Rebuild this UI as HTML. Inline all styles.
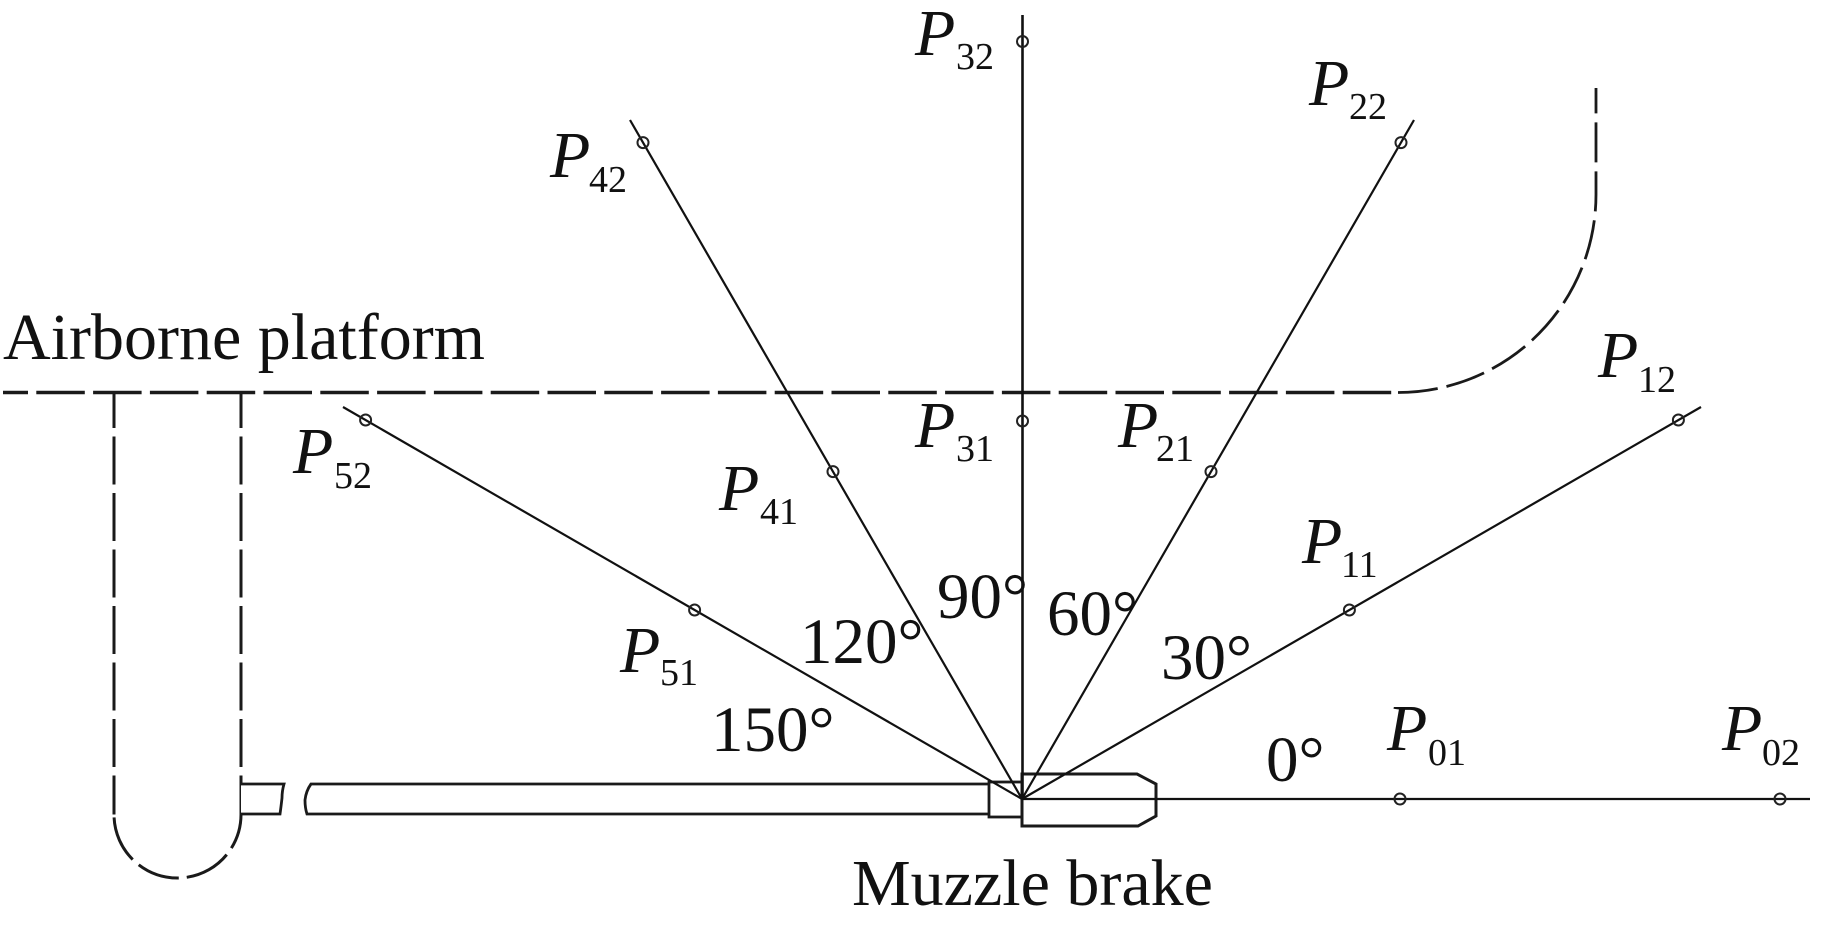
<!DOCTYPE html>
<html>
<head>
<meta charset="utf-8">
<style>
  html,body{margin:0;padding:0;background:#fff;}
  svg{display:block;}
  text{font-family:"Liberation Serif","Times New Roman",serif;fill:#111;}
  .P{font-style:italic;font-size:66px;}
  .s{font-size:38px;}
  .a{font-size:65px;}
  .lbl{font-size:66px;}
</style>
</head>
<body>
<svg width="1843" height="925" viewBox="0 0 1843 925" xmlns="http://www.w3.org/2000/svg">
  <rect x="0" y="0" width="1843" height="925" fill="#fff"/>

  <!-- Airborne platform dashed outline -->
  <path d="M3,392.5 H1398" fill="none" stroke="#1a1a1a" stroke-width="3.6" stroke-dasharray="48.5 8.3" stroke-dashoffset="23.5"/>
  <path d="M1398,392.5 A198,198 0 0 0 1596,194.5 V88" fill="none" stroke="#1a1a1a" stroke-width="2.8" stroke-dasharray="40 9"/>

  <!-- U shape on left -->
  <path d="M114,392 V814.5" fill="none" stroke="#1a1a1a" stroke-width="3" stroke-dasharray="48 8.5" stroke-dashoffset="12"/>
  <path d="M241,392 V814.5" fill="none" stroke="#1a1a1a" stroke-width="3" stroke-dasharray="48 8.5" stroke-dashoffset="12"/>
  <path d="M114,814.5 A63.5,63.5 0 0 0 241,814.5" fill="none" stroke="#1a1a1a" stroke-width="3" stroke-dasharray="0 3 47 8 43 8 47 8 47" />

  <!-- Barrel -->
  <path d="M241,784 H284 Q282,791 282,798 Q281,807 280,814 H241" fill="#fff" stroke="#1a1a1a" stroke-width="2.8"/>
  <path d="M989,784 H311 Q306,791 305,800 Q305,808 307,814 H989" fill="#fff" stroke="#1a1a1a" stroke-width="2.8"/>
  <rect x="989" y="782" width="33" height="35" fill="#fff" stroke="#1a1a1a" stroke-width="2.8"/>
  <!-- Muzzle brake -->
  <path d="M1022,774 H1137 L1156,784 V816 L1138,826 H1022 Z" fill="#fff" stroke="#1a1a1a" stroke-width="3"/>

  <!-- Rays -->
  <g stroke="#111" stroke-width="2.2" fill="none">
    <line x1="1022" y1="799" x2="1810" y2="799"/>
    <line x1="1022" y1="799" x2="1701" y2="407"/>
    <line x1="1022" y1="799" x2="1414" y2="120"/>
    <line x1="1022.5" y1="799" x2="1022.5" y2="15" stroke-width="2.6"/>
    <line x1="1022" y1="799" x2="630" y2="120"/>
    <line x1="1022" y1="799" x2="343" y2="407"/>
  </g>

  <!-- Measurement points -->
  <g stroke="#222" stroke-width="2" fill="none">
    <circle cx="1400" cy="799" r="5.5"/>
    <circle cx="1780" cy="799" r="5.5"/>
    <circle cx="1349.4" cy="610" r="5.5"/>
    <circle cx="1678.4" cy="420" r="5.5"/>
    <circle cx="1211" cy="471.6" r="5.5"/>
    <circle cx="1401" cy="142.6" r="5.5"/>
    <circle cx="1022.5" cy="421" r="5.5"/>
    <circle cx="1022.5" cy="41.5" r="5.5"/>
    <circle cx="833" cy="471.6" r="5.5"/>
    <circle cx="643" cy="142.6" r="5.5"/>
    <circle cx="694.6" cy="610" r="5.5"/>
    <circle cx="365.6" cy="420" r="5.5"/>
  </g>

  <!-- Point labels -->
  <text class="P" x="915" y="55">P</text><text class="s" x="956" y="69">32</text>
  <text class="P" x="550" y="177">P</text><text class="s" x="589" y="192">42</text>
  <text class="P" x="1309" y="105">P</text><text class="s" x="1349" y="119">22</text>
  <text class="P" x="293" y="473">P</text><text class="s" x="334" y="488">52</text>
  <text class="P" x="915" y="447">P</text><text class="s" x="956" y="461">31</text>
  <text class="P" x="719" y="510">P</text><text class="s" x="760" y="524">41</text>
  <text class="P" x="1118" y="447">P</text><text class="s" x="1156" y="461">21</text>
  <text class="P" x="620" y="672">P</text><text class="s" x="660" y="685">51</text>
  <text class="P" x="1302" y="563">P</text><text class="s" x="1341" y="577">11</text>
  <text class="P" x="1387" y="750">P</text><text class="s" x="1428" y="765">01</text>
  <text class="P" x="1598" y="377">P</text><text class="s" x="1638" y="392">12</text>
  <text class="P" x="1722" y="750">P</text><text class="s" x="1762" y="765">02</text>

  <!-- Angle labels -->
  <text class="a" x="937" y="618">90°</text>
  <text class="a" x="1047" y="635">60°</text>
  <text class="a" x="800" y="663">120°</text>
  <text class="a" x="711" y="751">150°</text>
  <text class="a" x="1161" y="679">30°</text>
  <text class="a" x="1266" y="781">0°</text>

  <!-- Titles -->
  <text class="lbl" x="3" y="359">Airborne platform</text>
  <text class="lbl" x="852" y="905">Muzzle brake</text>
</svg>
</body>
</html>
